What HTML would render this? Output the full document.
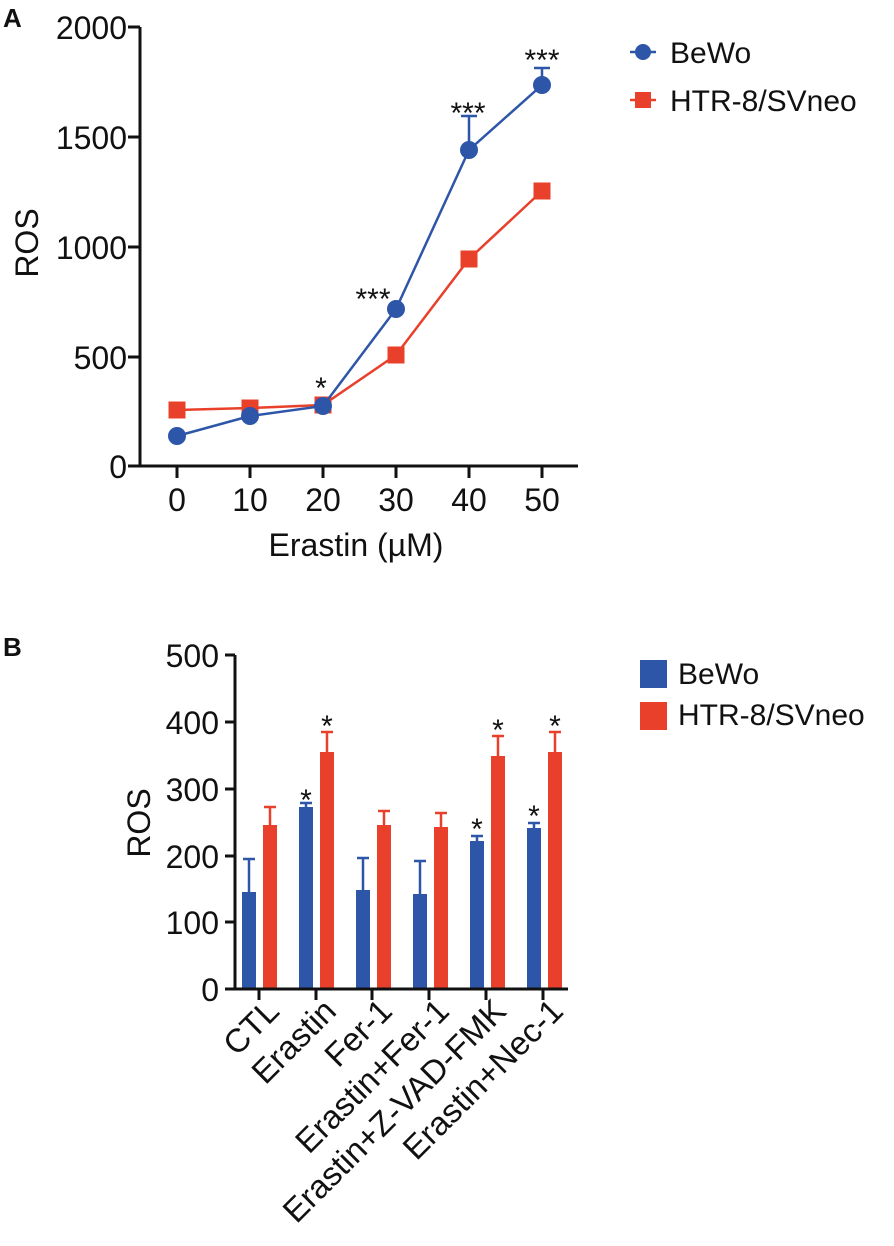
<!DOCTYPE html>
<html><head><meta charset="utf-8"><style>body{margin:0;background:#fff}svg{display:block}text{font-family:"Liberation Sans",Arial,sans-serif;fill:#111}</style></head>
<body>
<svg width="894" height="1246" viewBox="0 0 894 1246" xmlns="http://www.w3.org/2000/svg">
<text x="3" y="27" font-size="26" font-weight="bold">A</text>
<text x="3" y="656" font-size="26" font-weight="bold">B</text>
<!-- Panel A -->
<g stroke="#111" stroke-width="3" fill="none">
<path d="M140 27 V466 H578"/>
<path d="M128 27H140M128 137H140M128 247H140M128 357H140M128 466H140"/>
<path d="M177 466v12M250 466v12M323 466v12M396 466v12M469 466v12M542 466v12"/>
</g>
<g font-size="32" text-anchor="end">
<text x="127" y="39">2000</text><text x="127" y="149">1500</text><text x="127" y="259">1000</text><text x="127" y="369">500</text><text x="127" y="478">0</text>
</g>
<g font-size="32" text-anchor="middle">
<text x="177" y="511">0</text><text x="250" y="511">10</text><text x="323" y="511">20</text><text x="396" y="511">30</text><text x="469" y="511">40</text><text x="542" y="511">50</text>
<text x="356" y="556">Erastin (µM)</text>
</g>
<text transform="translate(38,243) rotate(-90)" font-size="32" text-anchor="middle">ROS</text>
<polyline points="177,410 250,408 323,405 396,355 469,259 542,191" fill="none" stroke="#e8402a" stroke-width="2.5"/>
<g fill="#e8402a"><rect x="168.5" y="401.5" width="17" height="17"/><rect x="241.5" y="399.5" width="17" height="17"/><rect x="314.5" y="396.5" width="17" height="17"/><rect x="387.5" y="346.5" width="17" height="17"/><rect x="460.5" y="250.5" width="17" height="17"/><rect x="533.5" y="182.5" width="17" height="17"/></g>
<g stroke="#2d55a8" stroke-width="2.5" fill="none"><polyline points="177,436 250,416 323,406 396,309 469,150 542,85"/><path d="M469 150V116M461 116H477M542 85V68M534 68H550"/></g>
<g fill="#2d55a8"><circle cx="177" cy="436" r="9"/><circle cx="250" cy="416" r="9"/><circle cx="323" cy="406" r="9"/><circle cx="396" cy="309" r="9"/><circle cx="469" cy="150" r="9"/><circle cx="542" cy="85" r="9"/></g>
<g font-size="30" text-anchor="middle"><text x="321" y="398">*</text><text x="373" y="309">***</text><text x="468" y="123">***</text><text x="542" y="70">***</text></g>
<path d="M630 52H656" stroke="#2d55a8" stroke-width="2.5"/><circle cx="643" cy="52" r="8" fill="#2d55a8"/>
<text x="670" y="63" font-size="30">BeWo</text>
<path d="M630 100H656" stroke="#e8402a" stroke-width="2.5"/><rect x="635" y="92" width="16" height="16" fill="#e8402a"/>
<text x="670" y="111" font-size="30">HTR-8/SVneo</text>
<!-- Panel B -->
<g fill="#2d55a8">
<rect x="242" y="892" width="14" height="97"/><rect x="299" y="807" width="14" height="182"/><rect x="356" y="890" width="14" height="99"/><rect x="413" y="894" width="14" height="95"/><rect x="470" y="841" width="14" height="148"/><rect x="527" y="828" width="14" height="161"/>
</g>
<g fill="#e8402a">
<rect x="263" y="825" width="14" height="164"/><rect x="320" y="752" width="14" height="237"/><rect x="377" y="825" width="14" height="164"/><rect x="434" y="827" width="14" height="162"/><rect x="491" y="756" width="14" height="233"/><rect x="548" y="752" width="14" height="237"/>
</g>
<g stroke="#2d55a8" stroke-width="2.5"><path d="M249 892V859M243 859H255M306 807V803M300 803H312M363 890V858M357 858H369M420 894V861M414 861H426M477 841V836M471 836H483M534 828V823M528 823H540"/></g>
<g stroke="#e8402a" stroke-width="2.5"><path d="M270 825V807M264 807H276M327 752V732M321 732H333M384 825V811M378 811H390M441 827V813M435 813H447M498 756V736M492 736H504M555 752V732M549 732H561"/></g>
<g stroke="#111" stroke-width="3" fill="none">
<path d="M235 655V989H568M225 989H235"/>
<path d="M225 655H235M225 722H235M225 789H235M225 856H235M225 922H235"/>
<path d="M259 989v11M316 989v11M372 989v11M429 989v11M486 989v11M543 989v11"/>
</g>
<g font-size="32" text-anchor="end">
<text x="219" y="667">500</text><text x="219" y="734">400</text><text x="219" y="801">300</text><text x="219" y="868">200</text><text x="219" y="934">100</text><text x="219" y="1001">0</text>
</g>
<g font-size="30" text-anchor="middle"><text x="306" y="810">*</text><text x="327" y="736">*</text><text x="477" y="839">*</text><text x="498" y="740">*</text><text x="534" y="826">*</text><text x="555" y="736">*</text></g>
<text transform="translate(150,823) rotate(-90)" font-size="32" text-anchor="middle">ROS</text>
<g font-size="33" text-anchor="end">
<text transform="translate(281,1013) rotate(-45)">CTL</text>
<text transform="translate(338,1013) rotate(-45)">Erastin</text>
<text transform="translate(394,1013) rotate(-45)">Fer-1</text>
<text transform="translate(451,1013) rotate(-45)">Erastin+Fer-1</text>
<text transform="translate(508,1013) rotate(-45)">Erastin+Z-VAD-FMK</text>
<text transform="translate(565,1013) rotate(-45)">Erastin+Nec-1</text>
</g>
<rect x="640" y="660" width="27" height="28" fill="#2d55a8"/>
<text x="678" y="684" font-size="30">BeWo</text>
<rect x="640" y="702" width="27" height="28" fill="#e8402a"/>
<text x="678" y="725" font-size="30">HTR-8/SVneo</text>
</svg>
</body></html>
